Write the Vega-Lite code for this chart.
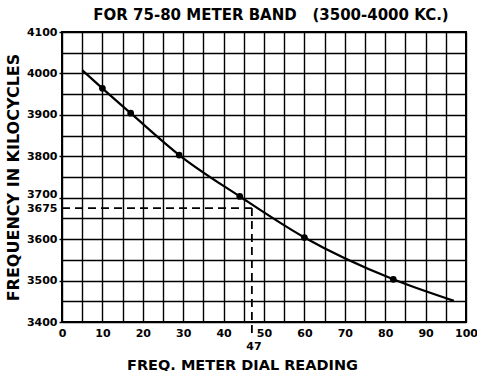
{
  "$schema": "https://vega.github.io/schema/vega-lite/v6.json",
  "width": 404,
  "height": 290,
  "autosize": "none",
  "padding": {"left": 62, "top": 32, "right": 11, "bottom": 49},
  "background": "white",
  "title": {
    "text": "FOR 75-80 METER BAND\u00a0\u00a0\u00a0(3500-4000 KC.)",
    "font": "DejaVu Sans",
    "fontSize": 15,
    "fontWeight": "bold",
    "color": "black",
    "offset": 3,
    "dx": 7
  },
  "config": {
    "view": {"stroke": "black", "strokeWidth": 2},
    "axis": {
      "domain": false,
      "gridColor": "black",
      "gridOpacity": 1,
      "gridWidth": 1.4,
      "labelFont": "DejaVu Sans",
      "labelFontWeight": "bold",
      "labelFontSize": 11,
      "labelColor": "black",
      "labelOverlap": false,
      "titleFont": "DejaVu Sans",
      "titleFontWeight": "bold",
      "titleColor": "black",
      "tickColor": "black",
      "tickWidth": 1.4,
      "tickCount": 200,
      "format": "d"
    }
  },
  "datasets": {
    "curve": [
      {"dial": 5, "freq": 4008, "dot": false},
      {"dial": 10, "freq": 3964, "dot": true},
      {"dial": 17, "freq": 3904, "dot": true},
      {"dial": 29, "freq": 3803, "dot": true},
      {"dial": 44, "freq": 3703, "dot": true},
      {"dial": 60, "freq": 3604, "dot": true},
      {"dial": 82, "freq": 3503, "dot": true},
      {"dial": 97, "freq": 3451, "dot": false}
    ],
    "guides": [
      {"dial": 0, "dial2": 47, "freq": 3675, "freq2": 3675},
      {"dial": 47, "dial2": 47, "freq": 3675, "freq2": 3363}
    ],
    "marks": [
      {"dial": 47, "freq": 3400, "label": "47"}
    ]
  },
  "layer": [
    {
      "data": {"name": "curve"},
      "mark": {"type": "line", "interpolate": "monotone", "color": "black", "strokeWidth": 2.2},
      "encoding": {
        "x": {
          "field": "dial", "type": "quantitative",
          "scale": {"domain": [0, 100], "nice": false, "zero": false},
          "axis": {
            "title": "FREQ. METER DIAL READING",
            "titleFontSize": 14.5,
            "values": [0,5,10,15,20,25,30,35,40,45,50,55,60,65,70,75,80,85,90,95,100],
            "labelExpr": "datum.value % 10 == 0 ? datum.label : ''",
            "ticks": false,
            "tickCount": 200,
            "labelPadding": 5,
            "titlePadding": 20,
            "titleX": 180,
            "labelFlush": false
          }
        },
        "y": {
          "field": "freq", "type": "quantitative",
          "scale": {"domain": [3400, 4100], "nice": false, "zero": false},
          "axis": {
            "title": "FREQUENCY IN KILOCYCLES",
            "titleFontSize": 16,
            "values": [3400,3450,3500,3550,3600,3650,3675,3700,3750,3800,3850,3900,3950,4000,4050,4100],
            "labelExpr": "(datum.value % 100 == 0 || datum.value == 3675) ? datum.label : ''",
            "labelOffset": {"condition": {"test": "datum.value == 3700", "value": -3.5}, "value": 0},
            "gridOpacity": {"condition": {"test": "datum.value == 3675", "value": 0}, "value": 1},
            "tickOpacity": {"condition": {"test": "datum.value % 100 == 0", "value": 1}, "value": 0},
            "tickCount": 200,
            "tickSize": 3,
            "labelPadding": 2,
            "titlePadding": 5,
            "labelFlush": false
          }
        }
      }
    },
    {
      "data": {"name": "curve"},
      "transform": [{"filter": "datum.dot"}],
      "mark": {"type": "circle", "size": 45, "color": "black", "opacity": 1},
      "encoding": {
        "x": {"field": "dial", "type": "quantitative"},
        "y": {"field": "freq", "type": "quantitative"}
      }
    },
    {
      "data": {"name": "guides"},
      "mark": {"type": "rule", "color": "black", "strokeWidth": 1.8, "strokeDash": [8, 5]},
      "encoding": {
        "x": {"field": "dial", "type": "quantitative"},
        "x2": {"field": "dial2"},
        "y": {"field": "freq", "type": "quantitative"},
        "y2": {"field": "freq2"}
      }
    },
    {
      "data": {"name": "marks"},
      "mark": {"type": "text", "font": "DejaVu Sans", "fontWeight": "bold", "fontSize": 11, "color": "black", "dy": 25, "dx": 2},
      "encoding": {
        "x": {"field": "dial", "type": "quantitative"},
        "y": {"field": "freq", "type": "quantitative"},
        "text": {"field": "label"}
      }
    }
  ]
}
